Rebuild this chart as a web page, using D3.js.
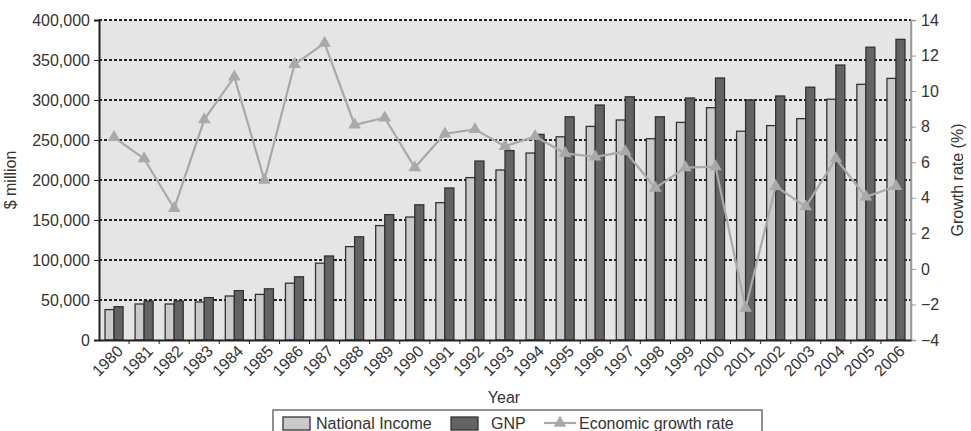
<!DOCTYPE html>
<html><head><meta charset="utf-8">
<script src="https://cdn.jsdelivr.net/npm/d3@7"></script>
<style>
body{margin:0;background:#fff;}
text{font-family:"Liberation Sans",Arial,Helvetica,sans-serif;fill:#333;}
</style></head><body>
<svg id="c" width="971" height="431"></svg>
<script>
const years = ["1980","1981","1982","1983","1984","1985","1986","1987","1988","1989","1990","1991","1992","1993","1994","1995","1996","1997","1998","1999","2000","2001","2002","2003","2004","2005","2006"];
const nationalIncome = [38000,45000,45000,47500,55000,57000,71000,96000,116700,143000,153700,171700,203000,212500,233700,254000,267000,275000,251600,272000,290400,261000,268000,276700,301000,319600,327000];
const gnp = [41600,48700,48700,53000,61700,64000,79000,105000,129000,156700,169000,190000,223700,236700,257000,279000,293700,304000,279000,302500,327500,300000,305000,316000,343700,366000,375800];
const growthRate = [7.4,6.2,3.4,8.4,10.8,5.0,11.5,12.7,8.1,8.5,5.7,7.6,7.85,6.9,7.45,6.5,6.3,6.6,4.55,5.7,5.75,-2.2,4.65,3.5,6.2,4.05,4.65];
const leftTicks = [0,50000,100000,150000,200000,250000,300000,350000,400000];
const rightTicks = [-4,-2,0,2,4,6,8,10,12,14];
const seriesNames = ["National Income","GNP","Economic growth rate"];

const svg = d3.select("#c");
const L=99, R=911, T=20, B=340;
const x = d3.scaleBand().domain(years).range([L,R]).paddingInner(0.4).paddingOuter(0.2);
const xs = d3.scaleBand().domain([0,1]).range([0,x.bandwidth()]);
const y = d3.scaleLinear().domain([0,400000]).range([B,T]);
const y2 = d3.scaleLinear().domain([-4,14]).range([B,T]);

// plot background
svg.append("rect").attr("x",L).attr("y",T).attr("width",R-L).attr("height",B-T).attr("fill","#e5e5e5");

// gridlines
svg.append("g").selectAll("line").data(leftTicks.filter(d=>d>0)).join("line")
  .attr("x1",L).attr("x2",R).attr("y1",d=>y(d)).attr("y2",d=>y(d))
  .attr("stroke","#222").attr("stroke-width",2).attr("stroke-dasharray","3,2");

// bars
const bars = svg.append("g");
bars.selectAll(".ni").data(years).join("rect")
  .attr("x",d=>x(d)+xs(0)).attr("width",xs.bandwidth())
  .attr("y",(d,i)=>y(nationalIncome[i])).attr("height",(d,i)=>B-y(nationalIncome[i]))
  .attr("fill","#cacaca").attr("stroke","#333").attr("stroke-width",1.3);
bars.selectAll(".gnp").data(years).join("rect")
  .attr("x",d=>x(d)+xs(1)).attr("width",xs.bandwidth())
  .attr("y",(d,i)=>y(gnp[i])).attr("height",(d,i)=>B-y(gnp[i]))
  .attr("fill","#636363").attr("stroke","#333").attr("stroke-width",1.3);

// line
const lineCol="#a9a9a9";
const line = d3.line().x((d,i)=>x(years[i])+x.bandwidth()/2).y(d=>y2(d));
svg.append("path").datum(growthRate).attr("d",line).attr("fill","none").attr("stroke",lineCol).attr("stroke-width",2.2);
const tri = d3.symbol().type(d3.symbolTriangle).size(70);
svg.append("g").selectAll("path").data(growthRate).join("path")
  .attr("d",tri).attr("transform",(d,i)=>`translate(${x(years[i])+x.bandwidth()/2},${y2(d)})`)
  .attr("fill",lineCol);

// right border
svg.append("line").attr("x1",R).attr("x2",R).attr("y1",T).attr("y2",B).attr("stroke","#999").attr("stroke-width",1.5);

// left axis
const ax = d3.axisLeft(y).tickValues(leftTicks).tickFormat(d3.format(",")).tickSize(5).tickPadding(4);
const gL = svg.append("g").attr("transform",`translate(${L},0)`).call(ax);
gL.select(".domain").attr("stroke","#222").attr("stroke-width",2);
gL.selectAll(".tick line").attr("stroke","#222");
gL.selectAll("text").style("font-size","16px").attr("fill","#333");

// right axis
const ax2 = d3.axisRight(y2).tickValues(rightTicks).tickFormat(d=>d<0?"\u2212"+Math.abs(d):d).tickSize(5).tickPadding(5);
const gR = svg.append("g").attr("transform",`translate(${R},0)`).call(ax2);
gR.select(".domain").attr("stroke","#999").attr("stroke-width",1.5);
gR.selectAll(".tick line").attr("stroke","#999");
gR.selectAll("text").style("font-size","16px").attr("fill","#666");

// bottom axis
const axb = d3.axisBottom(x).tickSize(0).tickPadding(6);
const gB = svg.append("g").attr("transform",`translate(0,${B})`).call(axb);
gB.select(".domain").attr("stroke","#222").attr("stroke-width",2);
gB.selectAll("text").style("font-size","16px").attr("fill","#333")
  .attr("text-anchor","end").attr("dx","-0.1em").attr("dy","0.6em").attr("transform","rotate(-45)");
// small ticks between categories
svg.append("g").selectAll("line").data(years.slice(1)).join("line")
  .attr("x1",d=>x(d)-x.step()*x.paddingInner()/2).attr("x2",d=>x(d)-x.step()*x.paddingInner()/2)
  .attr("y1",B).attr("y2",B+4).attr("stroke","#222");

// axis titles
svg.append("text").attr("transform","translate(16,180) rotate(-90)").attr("text-anchor","middle")
  .style("font-size","16px").attr("fill","#444").text("$ million");
svg.append("text").attr("transform","translate(963,180) rotate(-90)").attr("text-anchor","middle")
  .style("font-size","16px").attr("fill","#666").text("Growth rate (%)");
svg.append("text").attr("x",504).attr("y",403).attr("text-anchor","middle")
  .style("font-size","16px").attr("fill","#444").text("Year");

// legend
const lg = svg.append("g");
lg.append("rect").attr("x",273).attr("y",410).attr("width",489).attr("height",26)
  .attr("fill","#fff").attr("stroke","#555").attr("stroke-width",1.3);
lg.append("rect").attr("x",283).attr("y",417).attr("width",27).attr("height",13).attr("fill","#cacaca").attr("stroke","#333").attr("stroke-width",1.3);
lg.append("text").attr("x",316).attr("y",429).style("font-size","16px").text(seriesNames[0]);
lg.append("rect").attr("x",451).attr("y",417).attr("width",27).attr("height",13).attr("fill","#636363").attr("stroke","#333").attr("stroke-width",1.3);
lg.append("text").attr("x",491).attr("y",429).style("font-size","16px").text(seriesNames[1]);
lg.append("line").attr("x1",544).attr("x2",576).attr("y1",423).attr("y2",423).attr("stroke",lineCol).attr("stroke-width",2.2);
lg.append("path").attr("d",tri).attr("transform","translate(560,423)").attr("fill",lineCol);
lg.append("text").attr("x",579).attr("y",429).style("font-size","16px").text(seriesNames[2]);
</script></body></html>
